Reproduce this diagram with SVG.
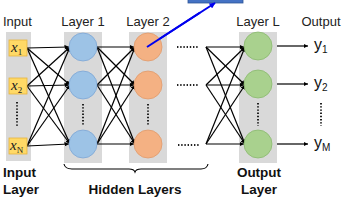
<svg xmlns="http://www.w3.org/2000/svg" width="356" height="200" viewBox="0 0 356 200">
<style>
.col{fill:#d9d9d9}
.lbl{font-family:"Liberation Sans",Arial,sans-serif;font-size:13px;fill:#222}
.bold{font-family:"Liberation Sans",Arial,sans-serif;font-size:13.5px;font-weight:bold;fill:#111}
.xin{fill:#ffd966;stroke:#e6b440;stroke-width:0.8}
.xt{font-family:"Liberation Serif","Times New Roman",serif;font-style:italic;font-size:15px;fill:#222}
.sub{font-size:9px;font-style:normal}
.yt{font-family:"Liberation Sans",Arial,sans-serif;font-size:16px;fill:#111}
.ysub{font-size:10px}
.c1{fill:#9dc3e6;stroke:#7ea6d4;stroke-width:0.8}
.c2{fill:#f4b183;stroke:#e09a6c;stroke-width:0.8}
.c3{fill:#a9d18e;stroke:#8ab96e;stroke-width:0.8}
.ln{stroke:#000;stroke-width:1.2;fill:none;marker-end:url(#ah)}
.dots{stroke:#222;stroke-width:2;stroke-dasharray:1.4 1.8;fill:none}
</style>
<defs>
<marker id="ah" viewBox="0 0 10 10" refX="10" refY="5" markerWidth="4.5" markerHeight="4.5" markerUnits="userSpaceOnUse" orient="auto"><path d="M0,0 L10,5 L0,10 z" fill="#000"/></marker>
<marker id="bh" viewBox="0 0 10 10" refX="9" refY="5" markerWidth="7" markerHeight="6" markerUnits="userSpaceOnUse" orient="auto"><path d="M0,0 L10,5 L0,10 z" fill="#0000ee"/></marker>
</defs>

<rect x="188" y="-10" width="55" height="13" fill="#4472c4" stroke="#2f5597" stroke-width="0.8"/>

<g id="columns">
<rect class="col" x="6" y="32" width="25" height="129"/>
<rect class="col" x="64" y="32" width="38" height="131"/>
<rect class="col" x="129" y="32" width="38" height="131"/>
<rect class="col" x="239" y="32" width="38" height="131"/>
</g>

<g id="labels">
<text class="lbl" x="3" y="26">Input</text>
<text class="lbl" x="83" y="26" text-anchor="middle">Layer 1</text>
<text class="lbl" x="148" y="26" text-anchor="middle">Layer 2</text>
<text class="lbl" x="258" y="26" text-anchor="middle">Layer L</text>
<text class="lbl" x="321" y="26" text-anchor="middle">Output</text>
<text class="bold" x="3" y="177">Input</text>
<text class="bold" x="3" y="194">Layer</text>
<text class="bold" x="135" y="194" text-anchor="middle">Hidden Layers</text>
<text class="bold" x="259" y="177" text-anchor="middle">Output</text>
<text class="bold" x="259" y="194" text-anchor="middle">Layer</text>
</g>

<g id="connectors">
<path class="ln" d="M27,48 L69,47"/>
<path class="ln" d="M27,48 L70,85"/>
<path class="ln" d="M27,48 L70,144"/>
<path class="ln" d="M27,86 L70,47"/>
<path class="ln" d="M27,86 L69,85"/>
<path class="ln" d="M27,86 L70,144"/>
<path class="ln" d="M27,146 L70,47"/>
<path class="ln" d="M27,146 L70,85"/>
<path class="ln" d="M27,146 L69,144"/>
<path class="ln" d="M97,47 L134,47"/>
<path class="ln" d="M97,47 L135,85"/>
<path class="ln" d="M97,47 L135,144"/>
<path class="ln" d="M97,85 L135,47"/>
<path class="ln" d="M97,85 L134,85"/>
<path class="ln" d="M97,85 L135,144"/>
<path class="ln" d="M97,144 L135,47"/>
<path class="ln" d="M97,144 L135,85"/>
<path class="ln" d="M97,144 L134,144"/>
<path class="ln" d="M206,47 L244,47"/>
<path class="ln" d="M206,47 L245,85"/>
<path class="ln" d="M206,47 L245,144"/>
<path class="ln" d="M206,85 L245,47"/>
<path class="ln" d="M206,85 L244,85"/>
<path class="ln" d="M206,85 L245,144"/>
<path class="ln" d="M206,144 L245,47"/>
<path class="ln" d="M206,144 L245,85"/>
<path class="ln" d="M206,144 L244,144"/>
<path class="ln" d="M277,46 L308,46"/>
<path class="ln" d="M277,84 L308,84"/>
<path class="ln" d="M277,144 L308,144"/>
<path d="M147,47 L215,3" stroke="#0000ee" stroke-width="2" fill="none" marker-end="url(#bh)"/>
</g>

<g id="input-nodes">
<g id="x1"><rect class="xin" x="9" y="40" width="18" height="16"/><text class="xt" x="11" y="52">x<tspan class="sub" dy="3">1</tspan></text></g>
<g id="x2"><rect class="xin" x="9" y="78" width="18" height="16"/><text class="xt" x="11" y="90">x<tspan class="sub" dy="3">2</tspan></text></g>
<g id="xN"><rect class="xin" x="9" y="138" width="18" height="16"/><text class="xt" x="10" y="150">x<tspan class="sub" dy="3">N</tspan></text></g>
</g>

<g id="layer1">
<circle class="c1" cx="83" cy="47" r="14"/>
<circle class="c1" cx="83" cy="85" r="14"/>
<circle class="c1" cx="83" cy="144" r="14"/>
</g>
<g id="layer2">
<circle class="c2" cx="148" cy="47" r="14"/>
<circle class="c2" cx="148" cy="85" r="14"/>
<circle class="c2" cx="148" cy="144" r="14"/>
</g>
<g id="layerL">
<circle class="c3" cx="258" cy="46" r="14"/>
<circle class="c3" cx="258" cy="84" r="14"/>
<circle class="c3" cx="258" cy="144" r="14"/>
</g>

<path d="M147,47 L200,12.7" stroke="#0000ee" stroke-width="2" fill="none"/>

<g id="dots">
<path class="dots" d="M17,102 V126"/>
<path class="dots" d="M83,104 V126"/>
<path class="dots" d="M148,104 V126"/>
<path class="dots" d="M258,103 V126"/>
<path class="dots" d="M321,103 V126"/>
<path class="dots" d="M177,47 H198"/>
<path class="dots" d="M177,85 H198"/>
<path class="dots" d="M178,145 H199"/>
</g>

<g id="outputs">
<text class="yt" x="314" y="50">y<tspan class="ysub" dy="3">1</tspan></text>
<text class="yt" x="314" y="88">y<tspan class="ysub" dy="3">2</tspan></text>
<text class="yt" x="314" y="148">y<tspan class="ysub" dy="3">M</tspan></text>
</g>

<path id="brace" d="M64,164 Q65,169 72,169 L129,169 Q134,169 135,172 Q136,169 141,169 L201,169 Q207,169 208,164" stroke="#000" stroke-width="1.1" fill="none"/>
</svg>
